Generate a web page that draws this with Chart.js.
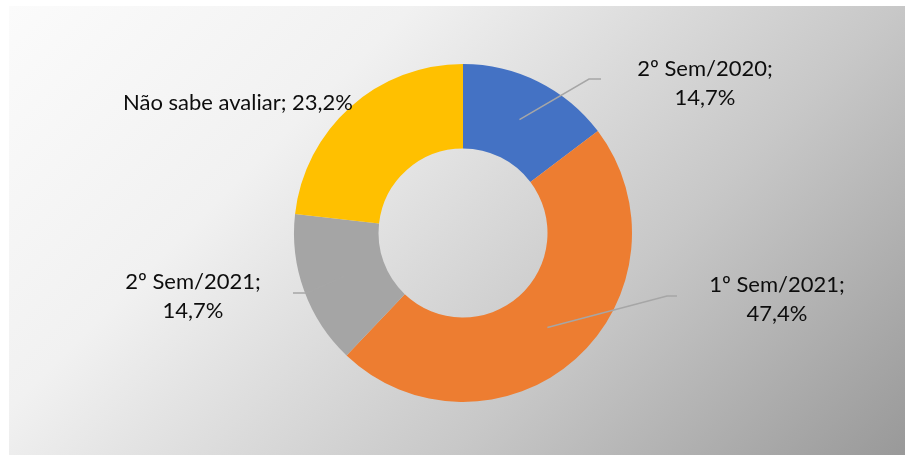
<!DOCTYPE html>
<html>
<head>
<meta charset="utf-8">
<script src="https://cdn.jsdelivr.net/npm/chart.js@4/dist/chart.umd.min.js"></script>
<style>
    html, body { margin: 0; padding: 0; background: #ffffff; }
    #wrap { position: relative; width: 905px; height: 455px; }
</style>
</head>
<body>
<div id="wrap"><canvas id="donut"></canvas></div>
<script>
// Periodo avaliado - distribuicao das respostas
const categories = ["2º Sem/2020", "1º Sem/2021", "2º Sem/2021", "Não sabe avaliar"];
const shares = [14.7, 47.4, 14.7, 23.2];
const sliceColors = ["#4472C4", "#ED7D31", "#A5A5A5", "#FFC000"];

// label placement relative to the donut centre (dx, dy of text centre), line layout
const labelLayout = [
    { dx: 242, dy: -150, lines: 2, elbow: [126, -154], end: [138, -154] },
    { dx: 314, dy: 66, lines: 2, elbow: [204, 63], end: [214, 63] },
    { dx: -270, dy: 63, lines: 2, elbow: [-156, 60], end: [-170, 60] },
    { dx: -225, dy: -130, lines: 1, elbow: null, end: null },
];

const fmt = v => v.toFixed(1).replace(".", ",") + "%";

const backgroundPlugin = {
    id: "bgGradient",
    beforeDraw(chart) {
        const ctx = chart.ctx;
        const x0 = 9, y0 = 6, x1 = 905, y1 = 455;
        const s = ((x1 - x0) + (y1 - y0)) / 2;
        const g = ctx.createLinearGradient(x0, y0, x0 + s, y0 + s);
        g.addColorStop(0, "#fbfbfb");
        g.addColorStop(0.3, "#f1f1f1");
        g.addColorStop(0.5, "#dadada");
        g.addColorStop(0.66, "#c8c8c8");
        g.addColorStop(1, "#999999");
        ctx.save();
        ctx.fillStyle = g;
        ctx.fillRect(x0, y0, x1 - x0, y1 - y0);
        ctx.restore();
    },
};

const labelPlugin = {
    id: "sliceLabels",
    afterDatasetsDraw(chart) {
        const ctx = chart.ctx;
        const arcs = chart.getDatasetMeta(0).data;
        ctx.save();
        arcs.forEach((arc, i) => {
            const lay = labelLayout[i];
            const cx = arc.x, cy = arc.y;
            const mid = (arc.startAngle + arc.endAngle) / 2;
            const r = arc.outerRadius * 0.75;

            if (lay.elbow) {
                ctx.strokeStyle = "#a6a6a6";
                ctx.lineWidth = 1.5;
                ctx.beginPath();
                ctx.moveTo(cx + Math.cos(mid) * r, cy + Math.sin(mid) * r);
                ctx.lineTo(cx + lay.elbow[0], cy + lay.elbow[1]);
                ctx.lineTo(cx + lay.end[0], cy + lay.end[1]);
                ctx.stroke();
            }

            ctx.fillStyle = "#0d0d0d";
            ctx.font = "22px Lato";
            ctx.textAlign = "center";
            ctx.textBaseline = "middle";
            const tx = cx + lay.dx, ty = cy + lay.dy;
            if (lay.lines === 2) {
                ctx.fillText(categories[i] + ";", tx, ty - 14.5);
                ctx.fillText(fmt(shares[i]), tx, ty + 14.5);
            } else {
                ctx.fillText(categories[i] + "; " + fmt(shares[i]), tx, ty);
            }
        });
        ctx.restore();
    },
};

new Chart(document.getElementById("donut"), {
    type: "doughnut",
    data: {
        labels: categories,
        datasets: [{
            data: shares,
            backgroundColor: sliceColors,
            borderWidth: 0,
        }],
    },
    options: {
        responsive: true,
        maintainAspectRatio: false,
        animation: false,
        cutout: "50%",
        layout: { padding: { left: 21, right: 0, top: 64, bottom: 53 } },
        plugins: {
            legend: { display: false },
            tooltip: { enabled: false },
        },
    },
    plugins: [backgroundPlugin, labelPlugin],
});
</script>
</body>
</html>
